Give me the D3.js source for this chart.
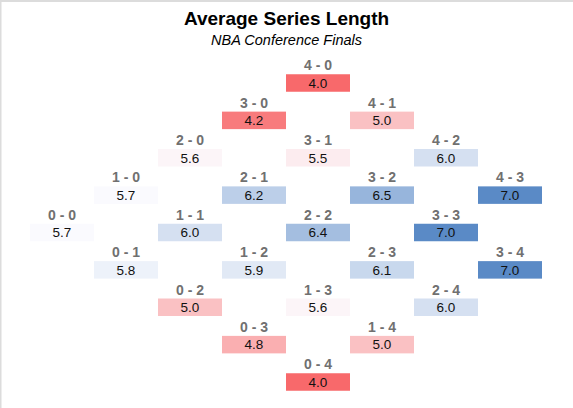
<!DOCTYPE html>
<html>
<head>
<meta charset="utf-8">
<script src="https://cdn.jsdelivr.net/npm/d3@7"></script>
<style>
  body { margin: 0; background: #fff; }
  svg { display: block; font-family: "Liberation Sans", Arial, sans-serif; }
</style>
</head>
<body>
<div id="chart"></div>
<script>
// series state (wins A - wins B) and the average length of series that passed through it
const states = ["0 - 0",
  "1 - 0", "0 - 1",
  "2 - 0", "1 - 1", "0 - 2",
  "3 - 0", "2 - 1", "1 - 2", "0 - 3",
  "4 - 0", "3 - 1", "2 - 2", "1 - 3", "0 - 4",
  "4 - 1", "3 - 2", "2 - 3", "1 - 4",
  "4 - 2", "3 - 3", "2 - 4",
  "4 - 3", "3 - 4"];
const avgLength = [5.7,
  5.7, 5.8,
  5.6, 6.0, 5.0,
  4.2, 6.2, 5.9, 4.8,
  4.0, 5.5, 6.4, 5.6, 4.0,
  5.0, 6.5, 6.1, 5.0,
  6.0, 7.0, 6.0,
  7.0, 7.0];
const gamesPlayed = d3.range(0, 8);
const margins = d3.range(4, -5, -1);

const width = 573, height = 408;

const svg = d3.select("#chart").append("svg")
  .attr("width", width)
  .attr("height", height);

// frame edges
svg.append("rect").attr("x", 0).attr("y", 0).attr("width", width).attr("height", 2).attr("fill", "#dcdcdc");
svg.append("rect").attr("x", 0).attr("y", 0).attr("width", 1.5).attr("height", height).attr("fill", "#dcdcdc");

svg.append("text")
  .attr("x", width / 2).attr("y", 25)
  .attr("text-anchor", "middle")
  .attr("font-size", "19px").attr("font-weight", "bold")
  .attr("fill", "#000")
  .text("Average Series Length");

svg.append("text")
  .attr("x", width / 2).attr("y", 44.5)
  .attr("text-anchor", "middle")
  .attr("font-size", "14.5px").attr("font-style", "italic")
  .attr("fill", "#000")
  .text("NBA Conference Finals");

var x = d3.scaleBand().domain(gamesPlayed).range([30, 542]).padding(0);
var y = d3.scalePoint().domain(margins).range([83, 382]);
var color = d3.scaleLinear()
  .domain([4, 5.68, 7])
  .range(["#f8696b", "#fcfcff", "#5a8ac6"]);

var cellH = 17.5;

var data = states.map((s, i) => {
  var p = s.split(" - ").map(Number);
  return { state: s, a: p[0], b: p[1], avg: avgLength[i] };
});

var cell = svg.selectAll("g.cell")
  .data(data)
  .enter().append("g")
  .attr("class", "cell")
  .attr("transform", d => `translate(${x(d.a + d.b)},${y(d.a - d.b)})`);

cell.append("rect")
  .attr("x", 0)
  .attr("y", -cellH / 2)
  .attr("width", x.bandwidth())
  .attr("height", cellH)
  .attr("fill", d => color(d.avg));

cell.append("text")
  .attr("x", x.bandwidth() / 2)
  .attr("y", -cellH / 2 - 4)
  .attr("text-anchor", "middle")
  .attr("font-size", "14px").attr("font-weight", "bold")
  .attr("fill", "#707070")
  .text(d => d.state);

cell.append("text")
  .attr("x", x.bandwidth() / 2)
  .attr("y", 4.8)
  .attr("text-anchor", "middle")
  .attr("font-size", "13.5px")
  .attr("fill", "#111")
  .text(d => d.avg.toFixed(1));
</script>
</body>
</html>
